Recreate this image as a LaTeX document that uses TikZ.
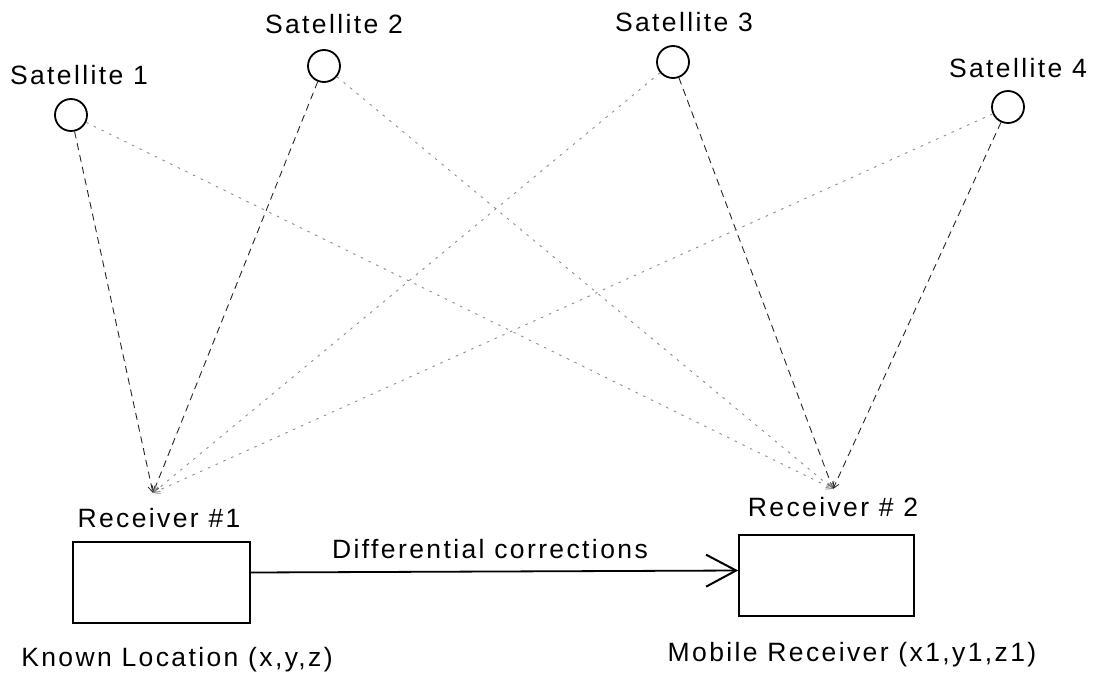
\documentclass[tikz,border=0pt]{standalone}
\usepackage{fontspec}
\setmainfont{Liberation Sans}[LetterSpace=9]
\usetikzlibrary{arrows.meta}
\begin{document}
\begin{tikzpicture}[x=1pt,y=-1pt,
  sat/.style={circle,draw,line width=1.8pt,minimum size=32pt,inner sep=0pt},
  lbl/.style={font=\fontsize{26.5}{30}\selectfont,inner sep=0pt},
  box/.style={draw,line width=1.6pt,inner sep=0pt},
  direct/.style={dash pattern=on 7pt off 5pt,line width=0.9pt,black!85,
    -{Straight Barb[length=6pt,width=7pt,line width=0.8pt]}},
  cross/.style={dash pattern=on 2.5pt off 6pt,line width=0.9pt,black!45,
    -{Straight Barb[length=6pt,width=7pt,line width=0.8pt]}},
  main/.style={line width=1.8pt,-{Straight Barb[length=30pt,width=32pt,line width=2pt]}}
]
\useasboundingbox (0,0) rectangle (1098,675);
% satellites
\node[sat] (s1) at (71,115) {};
\node[sat] (s2) at (324,66) {};
\node[sat] (s3) at (673,62) {};
\node[sat] (s4) at (1008,107) {};
\node[lbl] (l1) at (79,75) {Satellite 1};
\node[lbl] (l2) at (334,24) {Satellite 2};
\node[lbl] (l3) at (684,22) {Satellite 3};
\node[lbl] (l4) at (1018,68) {Satellite 4};
% receivers
\coordinate (r1) at (153,493);
\coordinate (r2) at (833,489);
\node[lbl] (rl1) at (159,518) {Receiver \#1};
\node[lbl] (rl2) at (833,507) {Receiver \# 2};
\node[box,minimum width=177pt,minimum height=81pt] (b1) at (161.5,582.5) {};
\node[box,minimum width=175pt,minimum height=81pt] (b2) at (826.5,575.5) {};
\node[lbl] (k1) at (177,660) {Known Location (x,y,z)};
\node[lbl] (k2) at (852,655) {Mobile Receiver (x1,y1,z1)};
% signal lines
\draw[direct] (s1) -- (r1);
\draw[direct] (s2) -- (r1);
\draw[direct] (s3) -- (r2);
\draw[direct] (s4) -- (r2);
\draw[cross] (s1) -- (r2);
\draw[cross] (s2) -- (r2);
\draw[cross] (s3) -- (r1);
\draw[cross] (s4) -- (r1);
% corrections
\draw[main] ([yshift=10pt]b1.east) -- ([yshift=5pt]b2.west);
\node[lbl] (dc) at (490,549) {Differential corrections};
\end{tikzpicture}
\end{document}
